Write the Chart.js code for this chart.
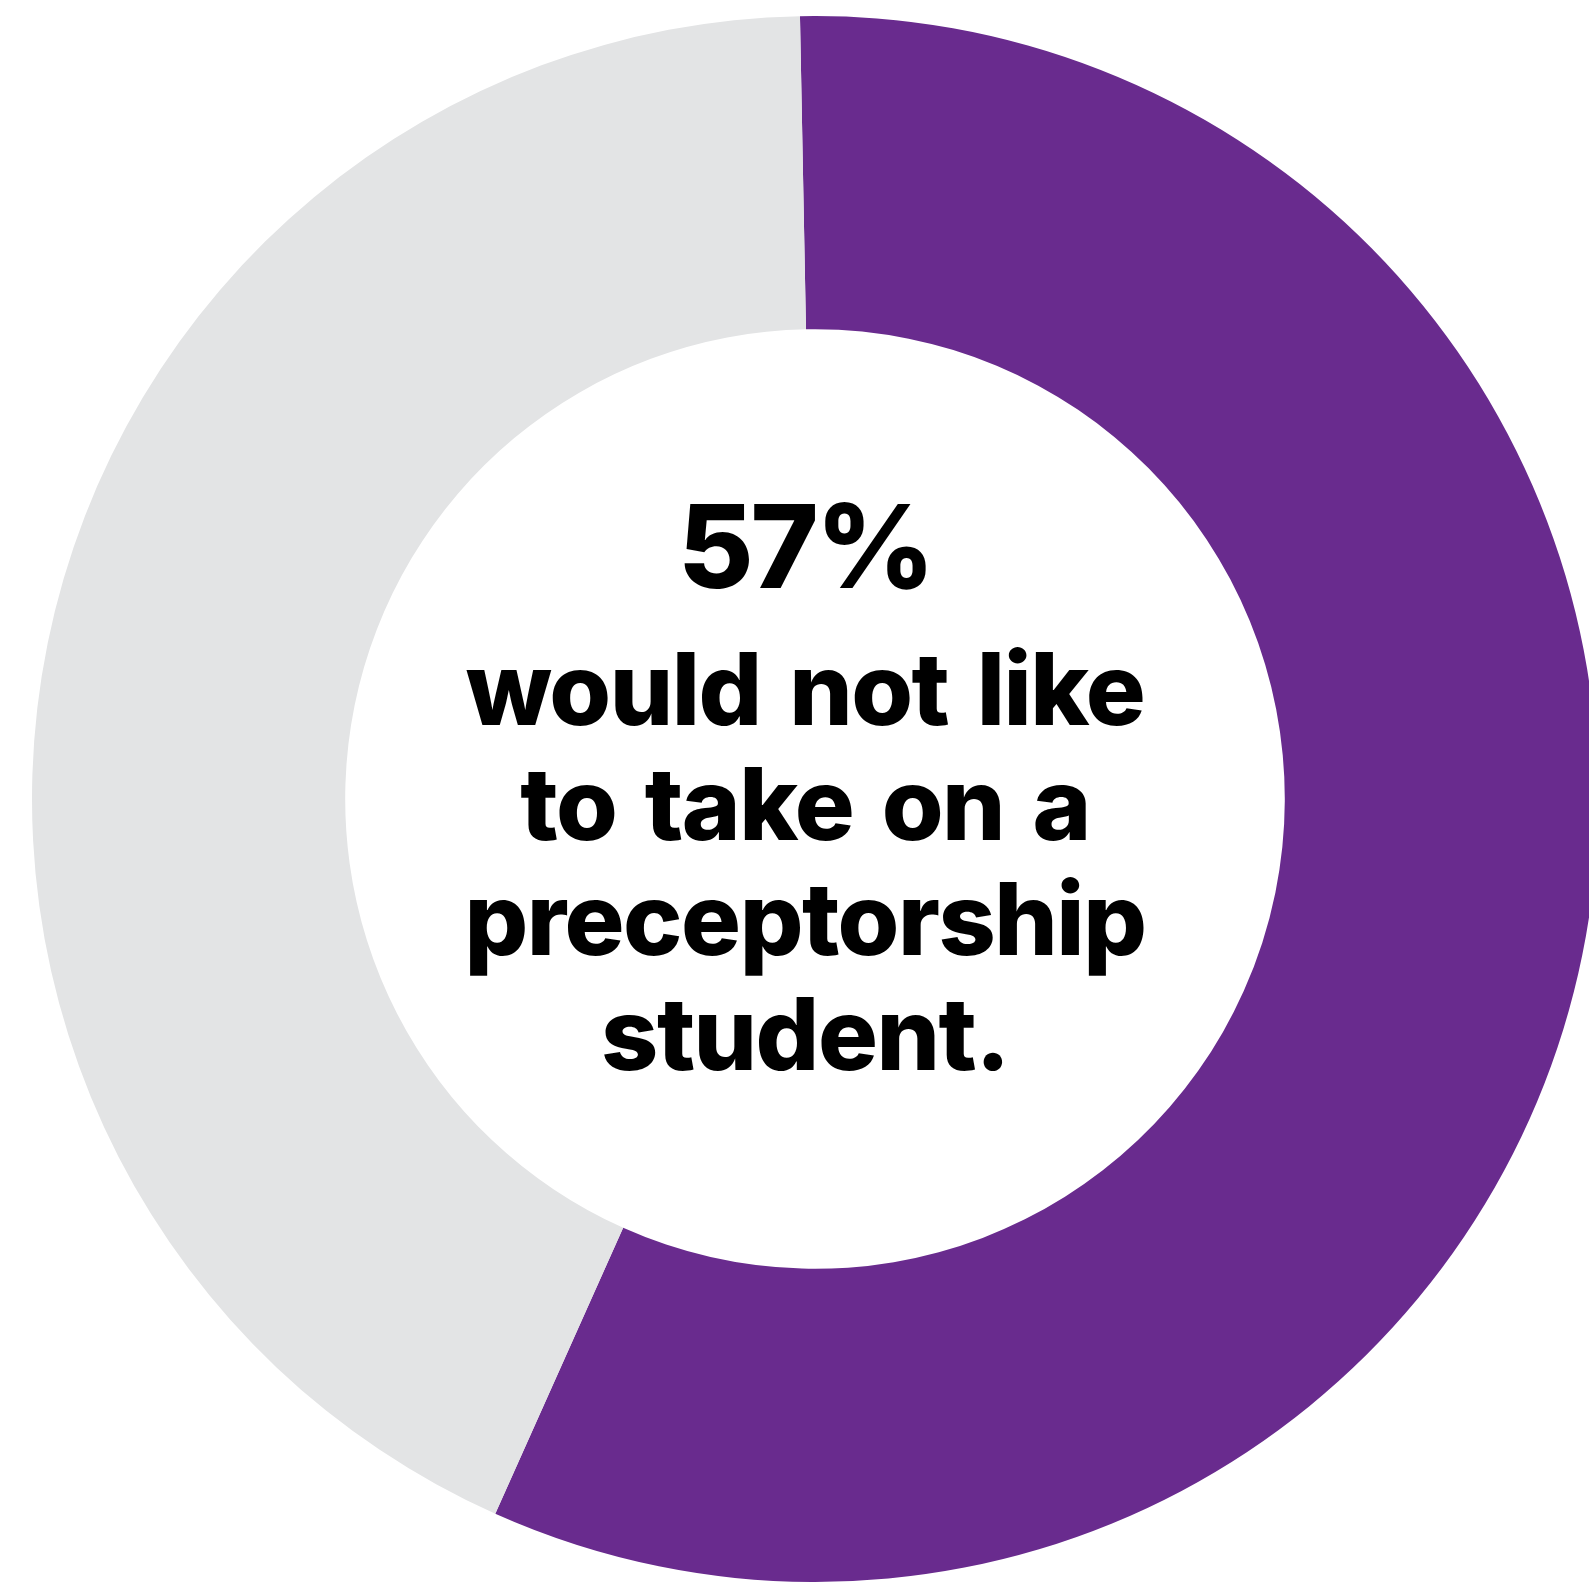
<!DOCTYPE html>
<html>
<head>
<meta charset="utf-8">
<script src="https://cdn.jsdelivr.net/npm/chart.js@4.4.1/dist/chart.umd.min.js"></script>
<style>
  html, body { margin: 0; padding: 0; background: #ffffff; overflow: hidden; }
  body { width: 1589px; height: 1582px; position: relative; }
  #wrap { position: absolute; left: 32px; top: 16px; width: 1566px; height: 1566px; }
  #center {
    position: absolute; left: 405px; top: 481px; width: 800px;
    text-align: center; color: #000; font-family: Inter, "Noto Sans", sans-serif; font-weight: 800;
  }
  #pct { font-size: 116px; line-height: 130px; letter-spacing: -3px; }
  #caption { font-size: 100px; line-height: 115px; margin-top: 20px; letter-spacing: -1.5px; word-spacing: 8px; }
</style>
</head>
<body>
<div id="wrap"><canvas id="chart"></canvas></div>
<div id="center">
  <div id="pct"></div>
  <div id="caption"></div>
</div>
<script>
// Survey answer split: share who would not take a preceptorship student vs. the rest
const categories = ["Would not like to take on a preceptorship student", "Other"];
const values = [57, 43];
const colors = ["#692b8e", "#e3e4e5"];
const captionLines = ["would not like", "to take on a", "preceptorship", "student."];

document.getElementById("pct").textContent = values[0] + "%";
document.getElementById("caption").innerHTML = captionLines.join("<br>");

new Chart(document.getElementById("chart"), {
  type: "doughnut",
  data: {
    labels: categories,
    datasets: [{
      data: values,
      backgroundColor: colors,
      borderWidth: 0,
      hoverOffset: 0
    }]
  },
  options: {
    responsive: true,
    maintainAspectRatio: false,
    animation: false,
    cutout: "60%",
    rotation: -1.1,
    layout: { padding: 0 },
    plugins: {
      legend: { display: false },
      tooltip: { enabled: false }
    },
    events: []
  }
});
</script>
</body>
</html>
